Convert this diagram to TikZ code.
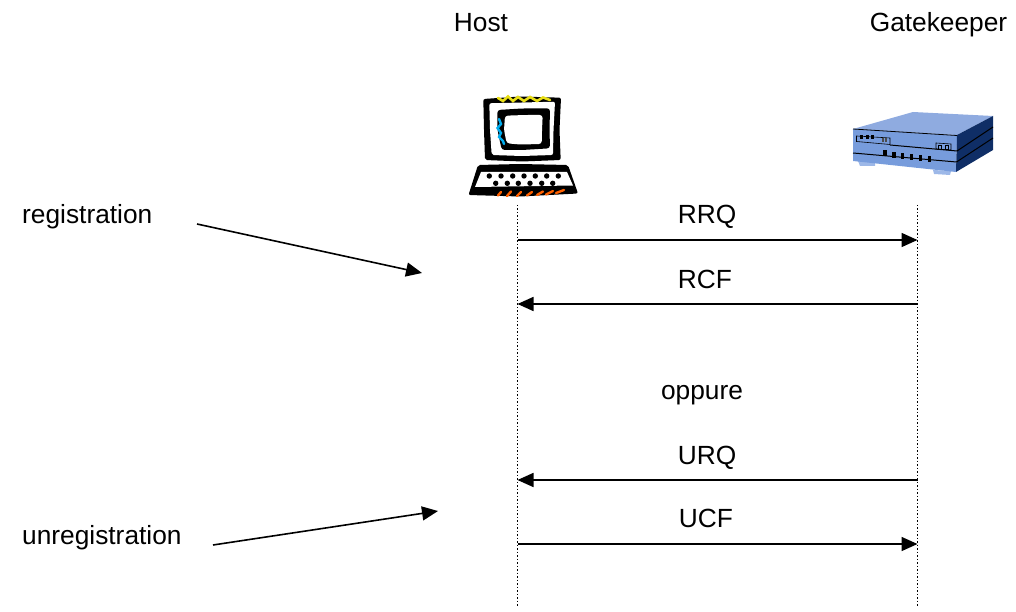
\documentclass[tikz,border=0pt]{standalone}
\usepackage{fontspec}
\setmainfont{Liberation Sans}
\usetikzlibrary{arrows.meta}
\definecolor{rtop}{HTML}{8FABE0}
\definecolor{rfront}{HTML}{779CDC}
\definecolor{rside}{HTML}{0F2E66}
\definecolor{rfoot}{HTML}{9DB8E8}
\tikzset{
 lbl/.style={font=\fontsize{26.3}{30}\selectfont,inner sep=0pt,text=black},
 msg/.style={draw=black,line width=1.6pt,-{Triangle[length=16pt,width=14pt]}},
 life/.style={draw=black,line width=1pt,dash pattern=on 1.5pt off 2pt},
}
\begin{document}
\begin{tikzpicture}[x=1pt,y=-1pt]
\useasboundingbox (0,0) rectangle (1016,612);
% computer
\fill[black,rounded corners=2pt] (483.3,99) -- (520,96.5) -- (561,97.7) -- (559.5,130) -- (560.7,160) -- (522,161.5) -- (485,160) -- (484,130) -- cycle;
\fill[white,rounded corners=2pt] (489.3,103.3) -- (522,102.5) -- (555,101.7) -- (553.5,130) -- (553,155) -- (522,156) -- (491.7,155) -- (490,130) -- cycle;
\fill[black,rounded corners=3pt] (497.3,110) -- (522,108.5) -- (550,108.3) -- (549.5,130) -- (550,148.3) -- (522,150) -- (501.7,150) -- (497.5,130) -- cycle;
\fill[white,rounded corners=3pt] (505,115.7) -- (525,115) -- (542.7,115) -- (542,130) -- (541.7,144) -- (520,144.5) -- (506.7,143.3) -- (504,130) -- cycle;
\draw[yellow!90!black,line width=2.6pt,line cap=round] (498,98) -- (503,101) -- (508,96.5) -- (513,101) -- (518,97) -- (524,101) -- (530,97) -- (537,101) -- (543,97.5) -- (550,100);
\draw[cyan,line width=2.4pt,line cap=round] (499,119) -- (501,124) -- (497.5,128) -- (501,133) -- (499,137) -- (503,141) -- (504,144);
\fill[black,rounded corners=2pt] (478,165) -- (520,164) -- (568,165) -- (578,193.5) -- (520,196.5) -- (468.5,195) -- cycle;
\fill[white] (481,172) -- (567,172) -- (573,185.5) -- (475,187) -- cycle;
\foreach \x in {489.3,501,512.7,524,535.3,546.7,558.3} \fill[black] (\x,176) circle (2.7pt);
\foreach \x in {495.7,507.3,518.3,530,541.7,552.7} \fill[black] (\x,183.3) circle (2.7pt);
\draw[orange!75!red,line width=2.4pt,line cap=round] (498,195.5) -- (501,192) (507,196) -- (511,191.5) (517,196) -- (521,192) (527,195.5) -- (532,192) (537,195) -- (543,191.5) (546,194.5) -- (553,191) (556,193) -- (564,190);
% gatekeeper
\fill[rfoot] (858,161) -- (875,162) -- (875,166) -- (860,166) -- cycle;
\fill[rfoot] (933,170) -- (951,171) -- (950,175) -- (934,174) -- cycle;
\fill[rtop] (853,129) -- (913,112) -- (993,116) -- (957,135) -- cycle;
\fill[rfront] (853,129) -- (957,135) -- (956,172) -- (853,161) -- cycle;
\fill[rside] (957,135) -- (993,116) -- (993,150) -- (956,172) -- cycle;
\draw[black,line width=1pt] (853,153) -- (956.5,162) -- (993,138);
\draw[black,line width=1pt] (890,145) -- (957,151) -- (993,127);
\draw[black,line width=.8pt] (853,129) -- (957,135.5);
\draw[black,line width=.6pt] (856.5,136) -- (856.5,141.5) -- (890,144.5) -- (890,138) -- cycle;
\draw[black,line width=.6pt] (936,143) -- (936,149) -- (951,150) -- (951,144) -- cycle;
\foreach \x in {860,866,871} \fill[black] (\x,135.5) rectangle +(3,3.5);
\foreach \x in {882,885} \fill[black!70] (\x,138.5) rectangle +(1.5,3.5);
\foreach \x in {938.5,945} \draw[black,line width=.8pt] (\x,145) rectangle +(3,4);
\foreach \x/\y in {883/150,892/152,900.5/153,909.5/154,918.5/155,927.5/156} \fill[black] (\x,\y) rectangle +(3.5,6);
% labels
\node[lbl,anchor=base] (host) at (481,32) {Host};
\node[lbl,anchor=base] (gk) at (938.5,32) {Gatekeeper};
\node[lbl,anchor=base west] (reg) at (22,223.5) {registration};
\node[lbl,anchor=base west] (unreg) at (22,544) {unregistration};
\node[lbl,anchor=base] (rrq) at (707,224) {RRQ};
\node[lbl,anchor=base] (rcf) at (705,288) {RCF};
\node[lbl,anchor=base] (opp) at (702,399) {oppure};
\node[lbl,anchor=base] (urq) at (707,464) {URQ};
\node[lbl,anchor=base] (ucf) at (706,527.5) {UCF};
% lifelines
\coordinate (ht) at (517.5,205); \coordinate (hb) at (517.5,606);
\coordinate (gt) at (917.5,205); \coordinate (gb) at (917.5,606);
\draw[life] (ht) -- (hb);
\draw[life] (gt) -- (gb);
% messages
\coordinate (h1) at (517.5,240); \coordinate (g1) at (917.5,240);
\coordinate (h2) at (517.5,304); \coordinate (g2) at (917.5,304);
\coordinate (h3) at (517.5,480); \coordinate (g3) at (917.5,480);
\coordinate (h4) at (517.5,544); \coordinate (g4) at (917.5,544);
\draw[msg] (h1) -- (g1);
\draw[msg] (g2) -- (h2);
\draw[msg] (g3) -- (h3);
\draw[msg] (h4) -- (g4);
% annotation arrows
\coordinate (ra) at (197,224); \coordinate (rb) at (422,273);
\coordinate (ua) at (213,545); \coordinate (ub) at (438,511);
\draw[msg] (ra) -- (rb);
\draw[msg] (ua) -- (ub);
\end{tikzpicture}
\end{document}
